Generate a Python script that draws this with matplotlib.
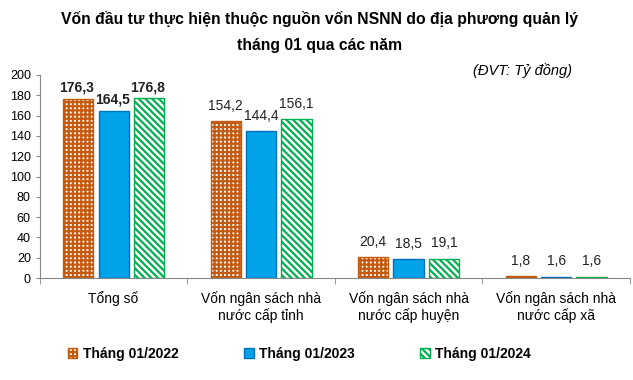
import numpy as np
import matplotlib.pyplot as plt

plt.rcParams['font.family'] = ['Liberation Sans', 'DejaVu Sans']
plt.rcParams['hatch.linewidth'] = 1.6

# du lieu
categories = ['Tổng số', 'Vốn ngân sách nhà\nnước cấp tỉnh',
              'Vốn ngân sách nhà\nnước cấp huyện', 'Vốn ngân sách nhà\nnước cấp xã']
series_names = ['Tháng 01/2022', 'Tháng 01/2023', 'Tháng 01/2024']
v2022 = [176.3, 154.2, 20.4, 1.8]
v2023 = [164.5, 144.4, 18.5, 1.6]
v2024 = [176.8, 156.1, 19.1, 1.6]
yticks = list(range(0, 201, 20))

fig = plt.figure(figsize=(6.33, 3.8), dpi=100)
ax = fig.add_axes([0.063, 0.268, 0.932, 0.535])

x = np.arange(len(categories))
w = 0.205
step = 0.24
styles = [
    dict(facecolor='white', edgecolor='#C55A11', hatch='++++'),
    dict(facecolor='#00A2E8', edgecolor='#0070C0', hatch=None),
    dict(facecolor='white', edgecolor='#00B050', hatch='\\\\\\\\\\'),
]
data = [v2022, v2023, v2024]
handles = []
for i, (vals, st) in enumerate(zip(data, styles)):
    bars = ax.bar(x + (i - 1) * step, vals, width=w, linewidth=1.0, **st,
                  label=series_names[i])
    handles.append(bars)
    for j, (b, v) in enumerate(zip(bars, vals)):
        lbl = f'{v:.1f}'.replace('.', ',')
        ax.annotate(lbl, (b.get_x() + b.get_width() / 2, v),
                    xytext=(-1 if j == 0 else 0, 3 if j == 0 else 6),
                    textcoords='offset points',
                    ha='center', va='bottom', fontsize=10,
                    fontweight='bold' if j == 0 else 'normal',
                    color='#222222')

ax.set_xlim(-0.5, len(categories) - 0.5)
ax.set_ylim(0, 200)
ax.set_yticks(yticks)
ax.tick_params(axis='y', labelsize=9, length=3, color='#888888')
ax.set_xticks(x)
ax.set_xticklabels(categories, fontsize=10)
ax.tick_params(axis='x', length=0, pad=9)
ax.set_xticks(np.arange(len(categories) + 1) - 0.5, minor=True)
ax.tick_params(axis='x', which='minor', length=4, color='#888888')
for s in ['top', 'right']:
    ax.spines[s].set_visible(False)
for s in ['left', 'bottom']:
    ax.spines[s].set_color('#888888')

fig.text(0.505, 0.97, 'Vốn đầu tư thực hiện thuộc nguồn vốn NSNN do địa phương quản lý\ntháng 01 qua các năm',
         ha='center', va='top', fontsize=11.3, fontweight='bold', linespacing=1.85)
fig.text(0.825, 0.815, '(ĐVT: Tỷ đồng)', ha='center', va='center',
         fontsize=10.5, style='italic')

fig.legend(handles=handles, loc='center', bbox_to_anchor=(0.473, 0.068), ncol=3,
           frameon=False, prop={'weight': 'bold', 'size': 10},
           handlelength=0.7, handleheight=0.7, columnspacing=4.7, handletextpad=0.4)

fig.savefig('out.png', dpi=100)
